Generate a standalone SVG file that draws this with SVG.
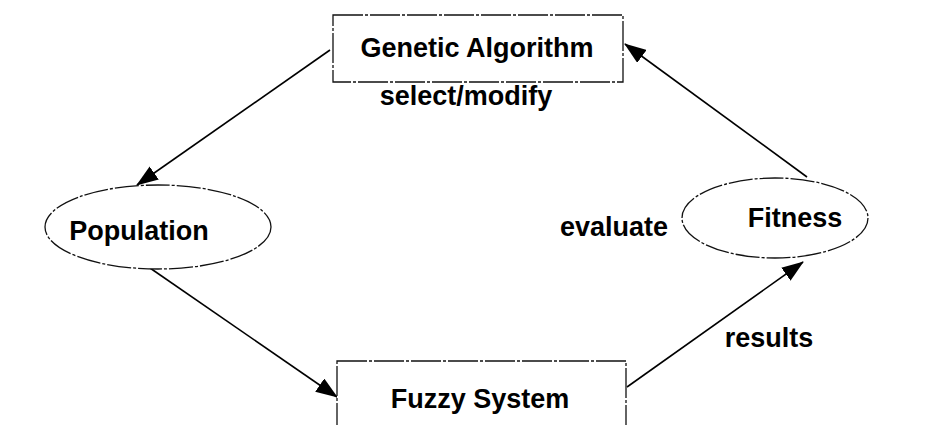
<svg xmlns="http://www.w3.org/2000/svg" width="931" height="425" viewBox="0 0 931 425">
  <style>
    .box { fill: #ffffff; stroke: #111111; stroke-width: 1.3; stroke-dasharray: 30 2 3 2; }
    .oval { fill: #ffffff; stroke: #111111; stroke-width: 1.3; stroke-dasharray: 24 2 3 2; }
    .label { font-family: "Liberation Sans", Arial, sans-serif; font-size: 27px; font-weight: bold; fill: #000000; text-anchor: middle; }
    .edge { fill: none; stroke: #000000; stroke-width: 1.6; marker-end: url(#arrow); }
  </style>
  <defs>
    <marker id="arrow" markerUnits="userSpaceOnUse" markerWidth="22" markerHeight="16" viewBox="0 0 22 16" refX="21" refY="8" orient="auto">
      <path d="M0,0 L22,8 L0,16 Z" fill="#000000"/>
    </marker>
  </defs>
  <rect width="931" height="425" fill="#ffffff"/>

  <!-- connectors -->
  <g id="connectors">
    <line class="edge" x1="330" y1="50" x2="137" y2="185"/>
    <line class="edge" x1="150" y1="268" x2="337" y2="397"/>
    <line class="edge" x1="627" y1="387" x2="803" y2="262"/>
    <line class="edge" x1="807" y1="177" x2="625" y2="44"/>
  </g>

  <!-- nodes -->
  <g id="genetic-algorithm">
    <rect class="box" x="333" y="15" width="290" height="67"/>
    <text class="label" x="477" y="57">Genetic Algorithm</text>
  </g>
  <g id="population">
    <ellipse class="oval" cx="158" cy="227" rx="113" ry="42"/>
    <text class="label" x="139" y="240">Population</text>
  </g>
  <g id="fitness">
    <ellipse class="oval" cx="775" cy="218" rx="93" ry="40"/>
    <text class="label" x="795" y="227">Fitness</text>
  </g>
  <g id="fuzzy-system">
    <rect class="box" x="337" y="361" width="289" height="80"/>
    <text class="label" x="480" y="408">Fuzzy System</text>
  </g>

  <!-- edge labels -->
  <text class="label" x="466" y="105">select/modify</text>
  <text class="label" x="614" y="236">evaluate</text>
  <text class="label" x="769" y="347">results</text>
</svg>
